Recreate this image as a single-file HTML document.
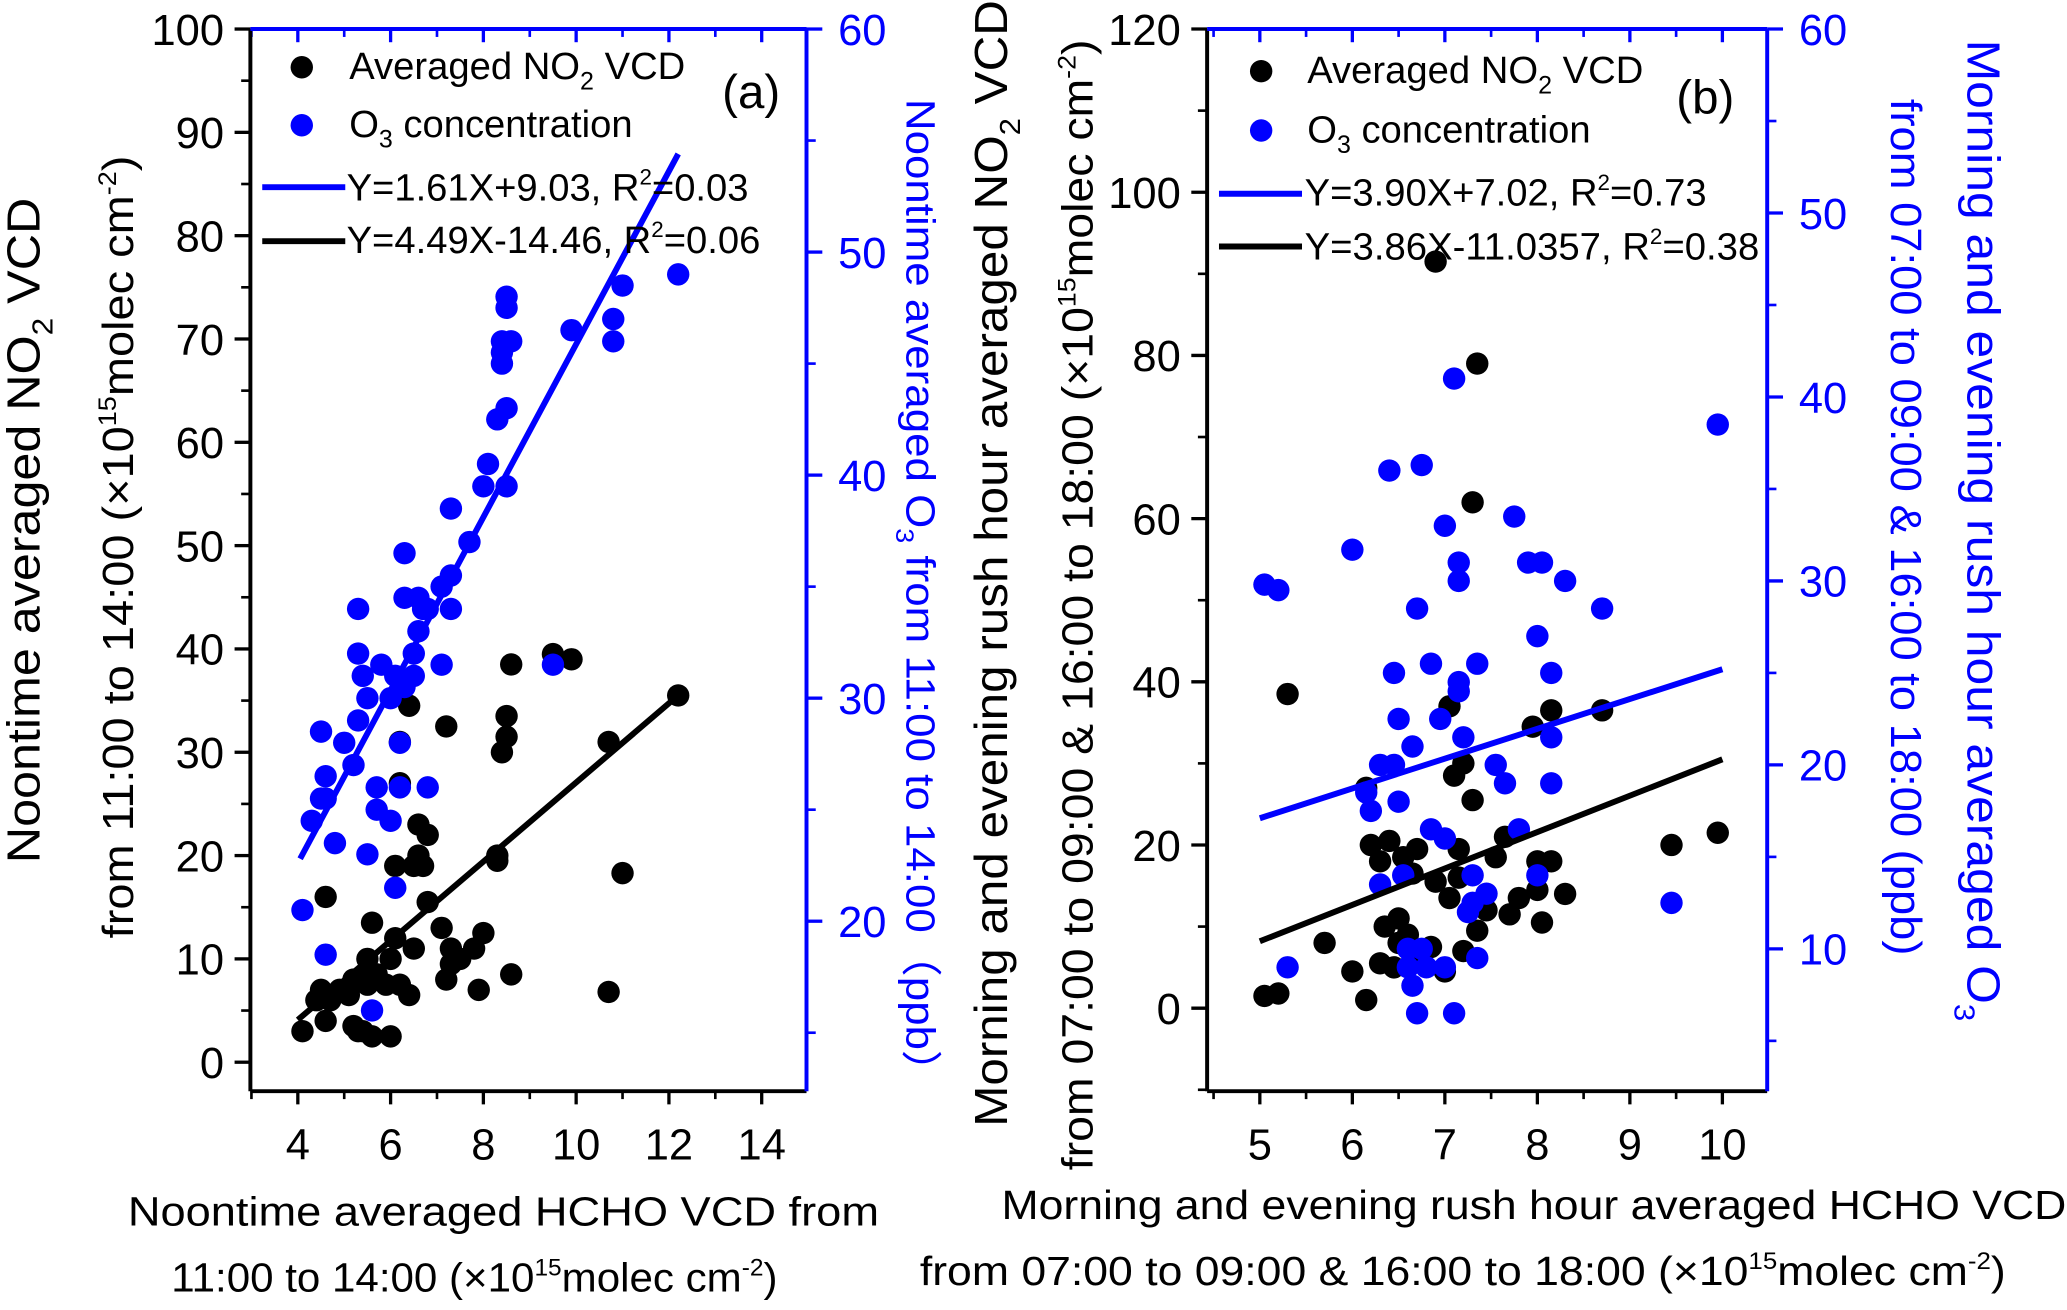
<!DOCTYPE html>
<html><head><meta charset="utf-8"><style>
html,body{margin:0;padding:0;background:#fff}
svg{display:block;font-family:"Liberation Sans",sans-serif}
</style></head><body>
<svg id="fig" width="2067" height="1310" viewBox="0 0 1568.5 994" xmlns="http://www.w3.org/2000/svg">
<g id="pa"></g>
<g id="pb"></g>
</svg>
<script>
// Panel A data
const aNo2X=[4.1,4.4,4.5,4.6,4.6,4.7,4.9,5.1,5.2,5.2,5.3,5.4,5.4,5.5,5.5,5.6,5.6,5.7,5.9,6.0,6.0,6.1,6.1,6.2,6.2,6.2,6.4,6.4,6.5,6.5,6.6,6.6,6.7,6.8,6.8,7.1,7.2,7.2,7.3,7.3,7.5,7.8,7.9,8.0,8.3,8.3,8.4,8.5,8.5,8.6,8.6,9.5,9.9,10.7,10.7,11.0,12.2];
const aNo2Y=[3,6,7,16,4,6,7,6.5,3.5,8,3,3,8,7.5,10,2.5,13.5,8.5,7.5,2.5,10,12,19,27,31,7.5,6.5,34.5,11,19,23,20,19,22,15.5,13,8,32.5,11,9.5,10,11,7,12.5,20,19.5,30,31.5,33.5,38.5,8.5,39.5,39,31,6.8,18.3,35.5];
const aO3X=[4.1,4.3,4.5,4.5,4.6,4.6,4.6,4.8,5.0,5.2,5.3,5.3,5.3,5.4,5.5,5.5,5.6,5.7,5.7,5.8,6.0,6.0,6.1,6.1,6.2,6.2,6.3,6.3,6.3,6.5,6.5,6.6,6.6,6.7,6.8,6.8,7.1,7.1,7.3,7.3,7.3,7.7,8.0,8.1,8.3,8.4,8.4,8.4,8.5,8.5,8.5,8.5,8.6,9.5,9.9,10.8,10.8,11.0,12.2];
const aO3Y=[20.5,24.5,25.5,28.5,25.5,26.5,18.5,23.5,28,27,29,32,34,31,30,23,16,26,25,31.5,24.5,30,21.5,31,28,26,34.5,36.5,30.5,32,31,33,34.5,34,34,26,31.5,35,35.5,34,38.5,37,39.5,40.5,42.5,45,45.5,46,47.5,48,39.5,43,46,31.5,46.5,46,47,48.5,49];
const aFitO3X=[4.05,12.2], aFitO3Y=[22.8,54.4];
const aFitNo2X=[4.0,12.2], aFitNo2Y=[4.1,35.5];
const aXTicks=[4,6,8,10,12,14], aYTicks=[0,10,20,30,40,50,60,70,80,90,100], aY2Ticks=[20,30,40,50,60];
// Panel B data
const bNo2X=[5.05,5.2,5.3,5.7,6.0,6.15,6.15,6.2,6.3,6.3,6.35,6.4,6.45,6.5,6.5,6.55,6.6,6.65,6.7,6.75,6.85,6.9,6.9,7.0,7.05,7.05,7.1,7.15,7.15,7.2,7.2,7.3,7.3,7.35,7.35,7.45,7.55,7.65,7.7,7.8,7.95,8.0,8.0,8.05,8.15,8.15,8.3,8.7,9.45,9.95];
const bNo2Y=[1.5,1.8,38.5,8,4.5,1,27,20,5.5,18,10,20.5,5,11,8,18.5,9,16.5,19.5,5.5,7.5,15.5,91.5,4.5,13.5,37,28.5,16,19.5,30,7,25.5,62,79,9.5,12,18.5,21,11.5,13.5,34.5,18,14.5,10.5,36.5,18,14,36.5,20,21.5];
const bO3X=[5.05,5.2,5.3,6.0,6.15,6.2,6.3,6.3,6.4,6.45,6.45,6.5,6.5,6.55,6.6,6.6,6.65,6.65,6.7,6.75,6.7,6.75,6.8,6.85,6.85,6.95,7.0,7.0,7.0,7.1,7.15,7.15,7.15,7.2,7.1,7.15,7.25,7.3,7.3,7.35,7.35,7.45,7.55,7.65,7.75,7.8,7.9,8.0,8.0,8.05,8.15,8.15,8.15,8.3,8.7,9.45,9.95];
const bO3Y=[29.8,29.5,9,31.7,18.5,17.5,13.5,20,36,20,25,22.5,18,14,10,9,8,21,28.5,36.3,6.5,10,9,16.5,25.5,22.5,33,16,9,6.5,24,24.5,30,21.5,41,31,12,12.5,14,25.5,9.5,13,20,19,33.5,16.5,31,14,27,31,25,21.5,19,30,28.5,12.5,38.5];
const bFitO3X=[5.0,10.0], bFitO3Y=[17.1,25.2];
const bFitNo2X=[5.0,10.0], bFitNo2Y=[8.2,30.5];
const bXTicks=[5,6,7,8,9,10], bYTicks=[0,20,40,60,80,100,120], bY2Ticks=[10,20,30,40,50,60];

const NS="http://www.w3.org/2000/svg";
function mk(parent,tag,attrs,text){const e=document.createElementNS(NS,tag);for(const k in attrs)e.setAttribute(k,attrs[k]);if(text!==undefined)e.textContent=text;parent.appendChild(e);return e;}
function lin(d0,d1,p0,p1){return v=>p0+(v-d0)*(p1-p0)/(d1-d0);}

function panel(g,cfg){
  const {L,R,T,B,x,y,y2}=cfg;
  for(const t of cfg.xt){const px=x(t);
    const e=mk(g,'line',{x1:px,y1:B,x2:px,y2:B+10,stroke:'#000','stroke-width':2.5});
    
    mk(g,'line',{x1:px,y1:T,x2:px,y2:T+10,stroke:'#00f','stroke-width':2.5});
    const l=mk(g,'text',{x:px,y:B+52,'font-size':33,'text-anchor':'middle'},String(t));
    
  }
  for(let i=0;i<cfg.xt.length-1;i++){const px=x((cfg.xt[i]+cfg.xt[i+1])/2);
    mk(g,'line',{x1:px,y1:B,x2:px,y2:B+6,stroke:'#000','stroke-width':2});
    mk(g,'line',{x1:px,y1:T,x2:px,y2:T+6,stroke:'#00f','stroke-width':2});}
  const ex=x(cfg.xt[0])-(x(cfg.xt[1])-x(cfg.xt[0]))/2; if(ex>L){mk(g,'line',{x1:ex,y1:B,x2:ex,y2:B+6,stroke:'#000','stroke-width':2});mk(g,'line',{x1:ex,y1:T,x2:ex,y2:T+6,stroke:'#00f','stroke-width':2});}
  for(const t of cfg.yt){const py=y(t);
    mk(g,'line',{x1:L-12,y1:py,x2:L,y2:py,stroke:'#000','stroke-width':2.5});
    const l=mk(g,'text',{x:L-20,y:py+12,'font-size':33,'text-anchor':'end'},String(t));
    }
  for(let i=0;i<cfg.yt.length-1;i++){const py=y((cfg.yt[i]+cfg.yt[i+1])/2);mk(g,'line',{x1:L-7,y1:py,x2:L,y2:py,stroke:'#000','stroke-width':2});}
  const ey=y(cfg.yt[0]-(cfg.yt[1]-cfg.yt[0])/2); if(ey<B) mk(g,'line',{x1:L-7,y1:ey,x2:L,y2:ey,stroke:'#000','stroke-width':2});
  for(const t of cfg.y2t){const py=y2(t);
    mk(g,'line',{x1:R,y1:py,x2:R+12,y2:py,stroke:'#00f','stroke-width':2.5});
    const l=mk(g,'text',{x:R+24,y:py+12,'font-size':33,fill:'#00f'},String(t));
    }
  for(let i=0;i<cfg.y2t.length;i++){const py=y2(cfg.y2t[i]-(cfg.y2t[1]-cfg.y2t[0])/2);if(py<B)mk(g,'line',{x1:R,y1:py,x2:R+7,y2:py,stroke:'#00f','stroke-width':2});}
  mk(g,'line',{x1:L,y1:T,x2:L,y2:B,stroke:'#000','stroke-width':3});
  mk(g,'line',{x1:L,y1:B,x2:R,y2:B,stroke:'#000','stroke-width':3});
  mk(g,'line',{x1:R,y1:T,x2:R,y2:B,stroke:'#00f','stroke-width':3});
  mk(g,'line',{x1:L,y1:T,x2:R,y2:T,stroke:'#00f','stroke-width':3});
  for(let i=0;i<cfg.nx.length;i++){const c=mk(g,'circle',{cx:x(cfg.nx[i]),cy:y(cfg.ny[i]),r:8.5,fill:'#000'});
    }
  for(let i=0;i<cfg.ox.length;i++){const c=mk(g,'circle',{cx:x(cfg.ox[i]),cy:y2(cfg.oy[i]),r:8.5,fill:'#00f'});
    }
  const fb=mk(g,'line',{x1:x(cfg.fox[0]),y1:y2(cfg.foy[0]),x2:x(cfg.fox[1]),y2:y2(cfg.foy[1]),stroke:'#00f','stroke-width':4.5});
  
  const fk=mk(g,'line',{x1:x(cfg.fnx[0]),y1:y(cfg.fny[0]),x2:x(cfg.fnx[1]),y2:y(cfg.fny[1]),stroke:'#000','stroke-width':4.5});
  
}
const ga=document.getElementById('pa'), gb=document.getElementById('pb');
panel(ga,{L:190,R:612,T:22,B:828,x:lin(4,14,226,578),y:lin(0,100,806,22),y2:lin(20,60,699,22),
  xt:aXTicks,yt:aYTicks,y2t:aY2Ticks,nx:aNo2X,ny:aNo2Y,ox:aO3X,oy:aO3Y,fox:aFitO3X,foy:aFitO3Y,fnx:aFitNo2X,fny:aFitNo2Y});
panel(gb,{L:916,R:1341,T:22,B:828,x:lin(5,10,956,1307),y:lin(0,120,765,22),y2:lin(10,60,720,22),
  xt:bXTicks,yt:bYTicks,y2t:bY2Ticks,nx:bNo2X,ny:bNo2Y,ox:bO3X,oy:bO3Y,fox:bFitO3X,foy:bFitO3Y,fnx:bFitNo2X,fny:bFitNo2Y});
</script>
<svg style="position:absolute;left:0;top:0" width="2067" height="1310" viewBox="0 0 1568.5 994" xmlns="http://www.w3.org/2000/svg" font-family="Liberation Sans, sans-serif">
<g font-size="29">
<circle cx="229" cy="51" r="8.5" fill="#000"/><text x="265" y="60" textLength="255" lengthAdjust="spacingAndGlyphs">Averaged NO<tspan font-size="19" dy="8">2</tspan><tspan dy="-8"> VCD</tspan></text>
<circle cx="229" cy="95" r="8.5" fill="#00f"/><text x="265" y="104" textLength="215" lengthAdjust="spacingAndGlyphs">O<tspan font-size="19" dy="8">3</tspan><tspan dy="-8"> concentration</tspan></text>
<line x1="199" y1="142" x2="262" y2="142" stroke="#00f" stroke-width="4.5"/><text x="263" y="152" textLength="305" lengthAdjust="spacingAndGlyphs">Y=1.61X+9.03, R<tspan font-size="17" dy="-12">2</tspan><tspan dy="12">=0.03</tspan></text>
<line x1="199" y1="183" x2="262" y2="183" stroke="#000" stroke-width="4.5"/><text x="263" y="192" textLength="314" lengthAdjust="spacingAndGlyphs">Y=4.49X-14.46, R<tspan font-size="17" dy="-12">2</tspan><tspan dy="12">=0.06</tspan></text>
</g>
<text x="548" y="82" font-size="36">(a)</text>
<g font-size="29">
<circle cx="957" cy="54" r="8.5" fill="#000"/><text x="992" y="63" textLength="255" lengthAdjust="spacingAndGlyphs">Averaged NO<tspan font-size="19" dy="8">2</tspan><tspan dy="-8"> VCD</tspan></text>
<circle cx="957" cy="99" r="8.5" fill="#00f"/><text x="992" y="108" textLength="215" lengthAdjust="spacingAndGlyphs">O<tspan font-size="19" dy="8">3</tspan><tspan dy="-8"> concentration</tspan></text>
<line x1="925" y1="147" x2="988" y2="147" stroke="#00f" stroke-width="4.5"/><text x="990" y="156" textLength="305" lengthAdjust="spacingAndGlyphs">Y=3.90X+7.02, R<tspan font-size="17" dy="-12">2</tspan><tspan dy="12">=0.73</tspan></text>
<line x1="925" y1="187" x2="988" y2="187" stroke="#000" stroke-width="4.5"/><text x="990" y="197" textLength="345" lengthAdjust="spacingAndGlyphs">Y=3.86X-11.0357, R<tspan font-size="17" dy="-12">2</tspan><tspan dy="12">=0.38</tspan></text>
</g>
<text x="1272" y="86" font-size="36">(b)</text>
<text x="97" y="930" font-size="31" textLength="570" lengthAdjust="spacingAndGlyphs">Noontime  averaged HCHO VCD from</text>
<text x="130" y="980" font-size="31" textLength="460" lengthAdjust="spacingAndGlyphs">11:00 to 14:00  (×10<tspan font-size="18" dy="-12">15</tspan><tspan dy="12">molec cm</tspan><tspan font-size="18" dy="-12">-2</tspan><tspan dy="12">)</tspan></text>
<text transform="translate(30,655) rotate(-90)" font-size="35" textLength="505" lengthAdjust="spacingAndGlyphs">Noontime  averaged NO<tspan font-size="22" dy="10">2</tspan><tspan dy="-10"> VCD</tspan></text>
<text transform="translate(101,712) rotate(-90)" font-size="33" textLength="594" lengthAdjust="spacingAndGlyphs">from 11:00 to 14:00 (×10<tspan font-size="19" dy="-13">15</tspan><tspan dy="13">molec cm</tspan><tspan font-size="19" dy="-13">-2</tspan><tspan dy="13">)</tspan></text>
<text transform="translate(688,75) rotate(90)" font-size="31" fill="#00f" textLength="755" lengthAdjust="spacingAndGlyphs">Noontime  averaged O<tspan font-size="19" dy="8">3</tspan><tspan dy="-8"> from 11:00 to 14:00（ppb）</tspan></text>
<text x="760" y="925" font-size="31" textLength="808" lengthAdjust="spacingAndGlyphs">Morning and evening rush hour  averaged HCHO VCD</text>
<text x="698" y="975" font-size="31" textLength="824" lengthAdjust="spacingAndGlyphs">from 07:00 to 09:00 &amp; 16:00 to 18:00 (×10<tspan font-size="18" dy="-12">15</tspan><tspan dy="12">molec cm</tspan><tspan font-size="18" dy="-12">-2</tspan><tspan dy="12">)</tspan></text>
<text transform="translate(764,855) rotate(-90)" font-size="35" textLength="855" lengthAdjust="spacingAndGlyphs">Morning and evening rush hour  averaged NO<tspan font-size="22" dy="10">2</tspan><tspan dy="-10"> VCD</tspan></text>
<text transform="translate(829,888) rotate(-90)" font-size="33" textLength="858" lengthAdjust="spacingAndGlyphs">from 07:00 to 09:00 &amp; 16:00 to 18:00 (×10<tspan font-size="19" dy="-13">15</tspan><tspan dy="13">molec cm</tspan><tspan font-size="19" dy="-13">-2</tspan><tspan dy="13">)</tspan></text>
<text transform="translate(1493,30) rotate(90)" font-size="35" fill="#00f" textLength="745" lengthAdjust="spacingAndGlyphs">Morning and evening rush hour  averaged O<tspan font-size="22" dy="10">3</tspan></text>
<text transform="translate(1435,75) rotate(90)" font-size="33" fill="#00f" textLength="650" lengthAdjust="spacingAndGlyphs">from 07:00 to 09:00 &amp; 16:00 to 18:00 (ppb)</text>
</svg>
</body></html>
